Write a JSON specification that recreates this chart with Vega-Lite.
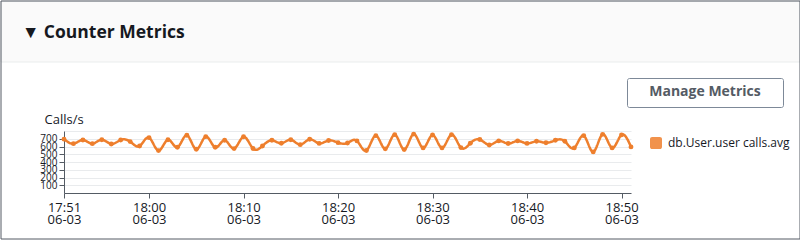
{
  "$schema": "https://vega.github.io/schema/vega-lite/v6.json",
  "width": 567,
  "height": 62,
  "autosize": {"type": "none"},
  "padding": {"left": 64, "top": 131, "right": 169, "bottom": 48},
  "background": "white",
  "title": {"text": "▼  Counter Metrics", "anchor": "start", "frame": "group", "orient": "top", "dx": -42, "offset": 0, "dy": 55.5, "baseline": "alphabetic", "font": "Open Sans", "fontSize": 17.5, "fontWeight": "bold", "color": "#16191f", "zindex": 3},
  "data": {"values": [
    {"t": "2023-06-03T17:51:00", "v": 695, "s": "db.User.user calls.avg"},
    {"t": "2023-06-03T17:52:00", "v": 637, "s": "db.User.user calls.avg"},
    {"t": "2023-06-03T17:53:00", "v": 684, "s": "db.User.user calls.avg"},
    {"t": "2023-06-03T17:54:00", "v": 637, "s": "db.User.user calls.avg"},
    {"t": "2023-06-03T17:55:00", "v": 688, "s": "db.User.user calls.avg"},
    {"t": "2023-06-03T17:56:00", "v": 633, "s": "db.User.user calls.avg"},
    {"t": "2023-06-03T17:57:00", "v": 684, "s": "db.User.user calls.avg"},
    {"t": "2023-06-03T17:58:00", "v": 663, "s": "db.User.user calls.avg"},
    {"t": "2023-06-03T17:59:00", "v": 607, "s": "db.User.user calls.avg"},
    {"t": "2023-06-03T18:00:00", "v": 714, "s": "db.User.user calls.avg"},
    {"t": "2023-06-03T18:01:00", "v": 547, "s": "db.User.user calls.avg"},
    {"t": "2023-06-03T18:02:00", "v": 688, "s": "db.User.user calls.avg"},
    {"t": "2023-06-03T18:03:00", "v": 590, "s": "db.User.user calls.avg"},
    {"t": "2023-06-03T18:04:00", "v": 745, "s": "db.User.user calls.avg"},
    {"t": "2023-06-03T18:05:00", "v": 564, "s": "db.User.user calls.avg"},
    {"t": "2023-06-03T18:06:00", "v": 727, "s": "db.User.user calls.avg"},
    {"t": "2023-06-03T18:07:00", "v": 590, "s": "db.User.user calls.avg"},
    {"t": "2023-06-03T18:08:00", "v": 680, "s": "db.User.user calls.avg"},
    {"t": "2023-06-03T18:09:00", "v": 573, "s": "db.User.user calls.avg"},
    {"t": "2023-06-03T18:10:00", "v": 725, "s": "db.User.user calls.avg"},
    {"t": "2023-06-03T18:11:00", "v": 575, "s": "db.User.user calls.avg"},
    {"t": "2023-06-03T18:12:00", "v": 607, "s": "db.User.user calls.avg"},
    {"t": "2023-06-03T18:13:00", "v": 680, "s": "db.User.user calls.avg"},
    {"t": "2023-06-03T18:14:00", "v": 641, "s": "db.User.user calls.avg"},
    {"t": "2023-06-03T18:15:00", "v": 688, "s": "db.User.user calls.avg"},
    {"t": "2023-06-03T18:16:00", "v": 624, "s": "db.User.user calls.avg"},
    {"t": "2023-06-03T18:17:00", "v": 693, "s": "db.User.user calls.avg"},
    {"t": "2023-06-03T18:18:00", "v": 640, "s": "db.User.user calls.avg"},
    {"t": "2023-06-03T18:19:00", "v": 678, "s": "db.User.user calls.avg"},
    {"t": "2023-06-03T18:20:00", "v": 650, "s": "db.User.user calls.avg"},
    {"t": "2023-06-03T18:21:00", "v": 646, "s": "db.User.user calls.avg"},
    {"t": "2023-06-03T18:22:00", "v": 672, "s": "db.User.user calls.avg"},
    {"t": "2023-06-03T18:23:00", "v": 548, "s": "db.User.user calls.avg"},
    {"t": "2023-06-03T18:24:00", "v": 740, "s": "db.User.user calls.avg"},
    {"t": "2023-06-03T18:25:00", "v": 570, "s": "db.User.user calls.avg"},
    {"t": "2023-06-03T18:26:00", "v": 753, "s": "db.User.user calls.avg"},
    {"t": "2023-06-03T18:27:00", "v": 560, "s": "db.User.user calls.avg"},
    {"t": "2023-06-03T18:28:00", "v": 760, "s": "db.User.user calls.avg"},
    {"t": "2023-06-03T18:29:00", "v": 582, "s": "db.User.user calls.avg"},
    {"t": "2023-06-03T18:30:00", "v": 748, "s": "db.User.user calls.avg"},
    {"t": "2023-06-03T18:31:00", "v": 582, "s": "db.User.user calls.avg"},
    {"t": "2023-06-03T18:32:00", "v": 753, "s": "db.User.user calls.avg"},
    {"t": "2023-06-03T18:33:00", "v": 586, "s": "db.User.user calls.avg"},
    {"t": "2023-06-03T18:34:00", "v": 642, "s": "db.User.user calls.avg"},
    {"t": "2023-06-03T18:35:00", "v": 690, "s": "db.User.user calls.avg"},
    {"t": "2023-06-03T18:36:00", "v": 620, "s": "db.User.user calls.avg"},
    {"t": "2023-06-03T18:37:00", "v": 672, "s": "db.User.user calls.avg"},
    {"t": "2023-06-03T18:38:00", "v": 638, "s": "db.User.user calls.avg"},
    {"t": "2023-06-03T18:39:00", "v": 672, "s": "db.User.user calls.avg"},
    {"t": "2023-06-03T18:40:00", "v": 640, "s": "db.User.user calls.avg"},
    {"t": "2023-06-03T18:41:00", "v": 667, "s": "db.User.user calls.avg"},
    {"t": "2023-06-03T18:42:00", "v": 648, "s": "db.User.user calls.avg"},
    {"t": "2023-06-03T18:43:00", "v": 680, "s": "db.User.user calls.avg"},
    {"t": "2023-06-03T18:44:00", "v": 667, "s": "db.User.user calls.avg"},
    {"t": "2023-06-03T18:45:00", "v": 582, "s": "db.User.user calls.avg"},
    {"t": "2023-06-03T18:46:00", "v": 740, "s": "db.User.user calls.avg"},
    {"t": "2023-06-03T18:47:00", "v": 530, "s": "db.User.user calls.avg"},
    {"t": "2023-06-03T18:48:00", "v": 757, "s": "db.User.user calls.avg"},
    {"t": "2023-06-03T18:49:00", "v": 582, "s": "db.User.user calls.avg"},
    {"t": "2023-06-03T18:50:00", "v": 750, "s": "db.User.user calls.avg"},
    {"t": "2023-06-03T18:51:00", "v": 595, "s": "db.User.user calls.avg"}
  ]},
  "encoding": {
    "x": {
      "field": "t", "type": "temporal",
      "scale": {"domain": [
        {"year": 2023, "month": 6, "date": 3, "hours": 17, "minutes": 51},
        {"year": 2023, "month": 6, "date": 3, "hours": 18, "minutes": 51}
      ]},
      "axis": {
        "title": null, "grid": false,
        "values": [
          {"year": 2023, "month": 6, "date": 3, "hours": 17, "minutes": 51},
          {"year": 2023, "month": 6, "date": 3, "hours": 18, "minutes": 0},
          {"year": 2023, "month": 6, "date": 3, "hours": 18, "minutes": 10},
          {"year": 2023, "month": 6, "date": 3, "hours": 18, "minutes": 20},
          {"year": 2023, "month": 6, "date": 3, "hours": 18, "minutes": 30},
          {"year": 2023, "month": 6, "date": 3, "hours": 18, "minutes": 40},
          {"year": 2023, "month": 6, "date": 3, "hours": 18, "minutes": 50}
        ],
        "labelExpr": "[timeFormat(datum.value, '%H:%M'), timeFormat(datum.value, '%m-%d')]",
        "labelFont": "Open Sans", "labelFontSize": 13, "labelLineHeight": 12,
        "labelColor": "#16191f", "labelPadding": 3, "labelFlush": false, "labelOverlap": false,
        "tickSize": 5, "tickColor": "#545b64", "domainColor": "#545b64"
      }
    },
    "y": {
      "field": "v", "type": "quantitative",
      "scale": {"domain": [0, 800], "nice": false},
      "axis": {
        "values": [100, 200, 300, 400, 500, 600, 700, 800],
        "labelExpr": "datum.value == 800 ? '' : datum.label",
        "tickOpacity": {"condition": {"test": "datum.value == 800", "value": 0}, "value": 1},
        "labelFont": "Open Sans", "labelFontSize": 10, "labelColor": "#16191f",
        "labelPadding": 2, "labelOverlap": false, "labelBound": false,
        "tickSize": 5, "tickColor": "#545b64", "domainColor": "#545b64",
        "gridColor": "#e9ebed",
        "title": "Calls/s", "titleAngle": 0, "titleAlign": "left", "titleBaseline": "alphabetic",
        "titleX": -20, "titleY": -8, "titleFont": "Open Sans", "titleFontSize": 13,
        "titleFontWeight": "normal", "titleColor": "#16191f"
      }
    },
    "color": {
      "field": "s", "type": "nominal",
      "scale": {"range": ["#ee7f2d"]},
      "legend": {
        "orient": "none", "legendX": 586, "legendY": 6, "title": null, "padding": 0, "zindex": 2,
        "symbolType": "M-0.65,-1L0.65,-1A0.35,0.35 0 0 1 1,-0.65L1,0.65A0.35,0.35 0 0 1 0.65,1L-0.65,1A0.35,0.35 0 0 1 -1,0.65L-1,-0.65A0.35,0.35 0 0 1 -0.65,-1Z",
        "symbolSize": 144, "symbolStrokeWidth": 0, "symbolOpacity": 0.85,
        "labelFont": "Open Sans", "labelFontSize": 12, "labelColor": "#16191f",
        "labelOffset": 6, "labelLimit": 300
      }
    }
  },
  "layer": [
    {
      "mark": {"type": "line", "interpolate": "natural", "strokeWidth": 2.5},
      "encoding": {
        "strokeDash": {
          "datum": "frame", "type": "nominal",
          "scale": {"range": [[1, 0]]},
          "legend": {
            "orient": "none", "legendX": -63.5, "legendY": -130.5, "zindex": 1,
            "title": " ", "titleFontSize": 1, "titlePadding": 236,
            "strokeColor": "#545b64", "padding": 0,
            "symbolSize": 0, "symbolOpacity": 0, "symbolStrokeWidth": 0,
            "labelExpr": "' '", "labelFontSize": 1, "labelOffset": 798
          }
        }
      }
    },
    {
      "mark": {"type": "point", "filled": true, "size": 24},
      "encoding": {
        "opacity": {
          "datum": "band", "type": "ordinal",
          "scale": {"range": [1]},
          "legend": {
            "orient": "none", "legendX": -63.5, "legendY": -130.5, "zindex": 0,
            "title": " ", "titleFontSize": 1, "titlePadding": 59,
            "strokeColor": "#eaeded", "fillColor": "#fafafa", "padding": 0,
            "symbolSize": 0, "symbolOpacity": 0, "symbolStrokeWidth": 0,
            "labelExpr": "' '", "labelFontSize": 1, "labelOffset": 798
          }
        },
        "shape": {
          "datum": "Manage Metrics", "type": "nominal",
          "scale": {"range": ["circle"]},
          "legend": {
            "orient": "none", "legendX": 563, "legendY": -53, "zindex": 2,
            "title": "Manage Metrics", "titleFont": "Open Sans", "titleFontSize": 14,
            "titleFontWeight": "bold", "titleColor": "#545b64", "titleAnchor": "middle",
            "titlePadding": 0, "strokeColor": "#7d8998", "fillColor": "white",
            "cornerRadius": 2, "padding": 7,
            "symbolSize": 0, "symbolOpacity": 0, "symbolStrokeWidth": 0,
            "labelExpr": "' '", "labelFontSize": 1, "labelOffset": 141
          }
        }
      }
    }
  ],
  "config": {"view": {"stroke": null}}
}
